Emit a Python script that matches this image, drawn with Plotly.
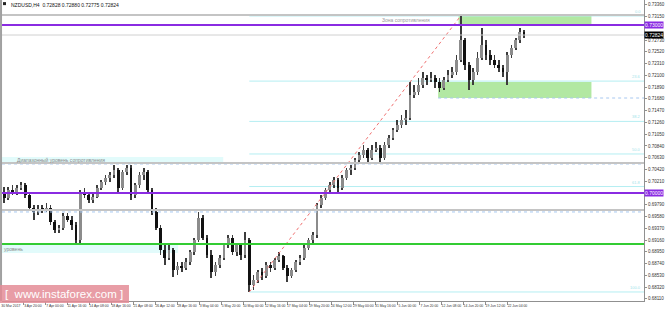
import plotly.graph_objects as go

# ---------------- data (12-hour candles, NZDUSD) ----------------
symbol_title = "NZDUSD,H4  0.72828 0.72880 0.72775 0.72824"

opens = [0.70018, 0.69911, 0.70054, 0.70018, 0.70089, 0.70143, 0.69964, 0.69732, 0.69661, 0.69714,
         0.69696, 0.69732, 0.69482, 0.69339, 0.69375, 0.69589, 0.69518, 0.69429, 0.69161, 0.70000,
         0.69964, 0.69875, 0.69929, 0.70089, 0.70196, 0.70268, 0.70321, 0.70411, 0.70089, 0.70375,
         0.70446, 0.69964, 0.70143, 0.70321, 0.70375, 0.70054, 0.69661, 0.69375, 0.68982, 0.68839,
         0.68982, 0.68625, 0.68696, 0.68661, 0.68768, 0.68946, 0.69161, 0.69554, 0.69196, 0.68893,
         0.68589, 0.68714, 0.68839, 0.69071, 0.69196, 0.68946, 0.69071, 0.68893, 0.69161, 0.68357,
         0.68446, 0.68589, 0.68518, 0.68714, 0.68661, 0.68804, 0.68875, 0.68661, 0.68518, 0.68625,
         0.68768, 0.68839, 0.69018, 0.69161, 0.69250, 0.69786, 0.69911, 0.70054, 0.70143, 0.70232,
         0.70089, 0.70268, 0.70411, 0.70446, 0.70589, 0.70679, 0.70768, 0.70625, 0.70768, 0.70804,
         0.70625, 0.70857, 0.70982, 0.71125, 0.71214, 0.71304, 0.71339, 0.71750, 0.71804, 0.71929,
         0.72054, 0.72018, 0.72054, 0.71982, 0.71875, 0.72018, 0.72107, 0.72161, 0.72375, 0.72732,
         0.72286, 0.72018, 0.72161, 0.72411, 0.72643, 0.72464, 0.72375, 0.72286, 0.72232, 0.72161,
         0.72464, 0.72589, 0.72732, 0.72875]

highs = [0.70107, 0.70107, 0.70143, 0.70143, 0.70196, 0.70179, 0.70000, 0.69786, 0.69786, 0.69786,
         0.69821, 0.69786, 0.69518, 0.69429, 0.69643, 0.69643, 0.69589, 0.69482, 0.70054, 0.70089,
         0.70018, 0.70000, 0.70143, 0.70232, 0.70321, 0.70375, 0.70500, 0.70446, 0.70411, 0.70500,
         0.70500, 0.70179, 0.70375, 0.70446, 0.70411, 0.70089, 0.69732, 0.69429, 0.69071, 0.69107,
         0.69018, 0.68768, 0.68768, 0.68839, 0.68982, 0.69196, 0.69661, 0.69607, 0.69250, 0.68982,
         0.68768, 0.68893, 0.69107, 0.69250, 0.69250, 0.69107, 0.69107, 0.69304, 0.69196, 0.68536,
         0.68625, 0.68661, 0.68768, 0.68768, 0.68839, 0.68946, 0.68893, 0.68714, 0.68661, 0.68804,
         0.68893, 0.69071, 0.69196, 0.69304, 0.69821, 0.69964, 0.70089, 0.70196, 0.70286, 0.70268,
         0.70321, 0.70446, 0.70500, 0.70625, 0.70732, 0.70857, 0.70804, 0.70857, 0.70911, 0.70857,
         0.70911, 0.71036, 0.71161, 0.71304, 0.71393, 0.71482, 0.71982, 0.71929, 0.72054, 0.72161,
         0.72107, 0.72161, 0.72107, 0.72054, 0.72071, 0.72196, 0.72250, 0.72464, 0.73161, 0.72768,
         0.72339, 0.72232, 0.72518, 0.72946, 0.72732, 0.72554, 0.72464, 0.72375, 0.72286, 0.72518,
         0.72643, 0.72768, 0.72946, 0.72911]

lows = [0.69821, 0.69875, 0.69964, 0.69964, 0.70054, 0.69911, 0.69696, 0.69518, 0.69607, 0.69643,
        0.69661, 0.69429, 0.69286, 0.69286, 0.69339, 0.69482, 0.69339, 0.69071, 0.69107, 0.69911,
        0.69821, 0.69821, 0.69911, 0.70054, 0.70143, 0.70196, 0.70268, 0.70000, 0.70054, 0.70321,
        0.69875, 0.69911, 0.70089, 0.70232, 0.70000, 0.69607, 0.69339, 0.68893, 0.68714, 0.68804,
        0.68500, 0.68536, 0.68589, 0.68625, 0.68714, 0.68893, 0.69125, 0.69161, 0.68839, 0.68482,
        0.68518, 0.68661, 0.68804, 0.69018, 0.68893, 0.68875, 0.68804, 0.68839, 0.68232, 0.68268,
        0.68393, 0.68446, 0.68482, 0.68589, 0.68625, 0.68768, 0.68625, 0.68411, 0.68482, 0.68589,
        0.68714, 0.68804, 0.68982, 0.69107, 0.69196, 0.69732, 0.69875, 0.70000, 0.70089, 0.70018,
        0.70054, 0.70232, 0.70321, 0.70411, 0.70536, 0.70625, 0.70554, 0.70589, 0.70732, 0.70536,
        0.70589, 0.70804, 0.70946, 0.71089, 0.71161, 0.71214, 0.71304, 0.71696, 0.71750, 0.71875,
        0.71929, 0.71982, 0.71875, 0.71804, 0.71839, 0.71982, 0.72054, 0.72107, 0.72339, 0.72196,
        0.71839, 0.71929, 0.72107, 0.72375, 0.72375, 0.72286, 0.72232, 0.72161, 0.72071, 0.71929,
        0.72411, 0.72554, 0.72679, 0.72768]

closes = [0.69911, 0.70054, 0.70018, 0.70089, 0.70143, 0.69964, 0.69732, 0.69661, 0.69714, 0.69696,
          0.69732, 0.69482, 0.69339, 0.69375, 0.69589, 0.69518, 0.69429, 0.69161, 0.70000, 0.69964,
          0.69875, 0.69929, 0.70089, 0.70196, 0.70268, 0.70321, 0.70411, 0.70089, 0.70375, 0.70446,
          0.69964, 0.70143, 0.70321, 0.70375, 0.70054, 0.69661, 0.69375, 0.68982, 0.68839, 0.68982,
          0.68625, 0.68696, 0.68661, 0.68768, 0.68946, 0.69161, 0.69554, 0.69196, 0.68893, 0.68589,
          0.68714, 0.68839, 0.69071, 0.69196, 0.68946, 0.69071, 0.68893, 0.69161, 0.68357, 0.68446,
          0.68589, 0.68518, 0.68714, 0.68661, 0.68804, 0.68875, 0.68661, 0.68518, 0.68625, 0.68768,
          0.68839, 0.69018, 0.69161, 0.69250, 0.69786, 0.69911, 0.70054, 0.70143, 0.70232, 0.70089,
          0.70268, 0.70411, 0.70446, 0.70589, 0.70679, 0.70768, 0.70625, 0.70768, 0.70804, 0.70625,
          0.70857, 0.70982, 0.71125, 0.71214, 0.71304, 0.71339, 0.71750, 0.71804, 0.71929, 0.72054,
          0.72018, 0.72054, 0.71982, 0.71875, 0.72018, 0.72107, 0.72161, 0.72375, 0.72732, 0.72286,
          0.72018, 0.72161, 0.72411, 0.72643, 0.72464, 0.72375, 0.72286, 0.72232, 0.72161, 0.72464,
          0.72589, 0.72732, 0.72875, 0.72821]

time_labels = ["30 Mar 2017", "3 Apr 20:00", "7 Apr 00:00", "11 Apr 16:00", "14 Apr 08:00",
               "18 Apr 16:00", "21 Apr 08:00", "26 Apr 12:00", "28 Apr 16:00", "3 May 04:00",
               "5 May 20:00", "10 May 00:00", "12 May 16:00", "17 May 04:00", "19 May 20:00",
               "24 May 12:00", "29 May 00:00", "31 May 16:00", "5 Jun 00:00", "7 Jun 20:00",
               "12 Jun 08:00", "14 Jun 20:00", "19 Jun 12:00", "22 Jun 04:00"]

price_ticks = [0.73360, 0.73150, 0.72730, 0.72520, 0.72310, 0.72100, 0.71890, 0.71680,
               0.71470, 0.71260, 0.71050, 0.70840, 0.70630, 0.70420, 0.70210, 0.69790,
               0.69580, 0.69370, 0.69160, 0.68950, 0.68740, 0.68530, 0.68320, 0.68110]

purple_levels = [0.73000, 0.70000]
gray_levels = [0.73179, 0.70536, 0.69696]
dotted_levels = [0.70518, 0.69661]
green_level = 0.69089
bid_line = 0.72821
bid_label = "0.72824"
zone_upper = (0.72982, 0.73161)
zone_lower = (0.71696, 0.71982)
range_band = (0.70536, 0.70643)
level_band = (0.68929, 0.69071)
fib_ratios = [0.0, 0.236, 0.382, 0.5, 0.618, 1.0]
fib_texts = ["0.0", "23.6", "38.2", "50.0", "61.8", "100.0"]
fib_low_idx, fib_high_idx = 58, 108
zone_upper_idx, zone_lower_idx = 108, 103

# ---------------- geometry of the x scale (H4 bars) ----------------
BARS_PER_CANDLE = 3
X_MAX = 455.6
ZONE_END = 418.3
xs = [1.5 + BARS_PER_CANDLE * i for i in range(len(closes))]
label_step = 15.63
tickvals = [6.3 + label_step * k for k in range(len(time_labels))]
minor_vals = [-0.7 + label_step * k for k in range(1, len(time_labels))]

BULL = "#8c8c8c"
BEAR = "#111111"
WICK = "#3c3c3c"
PURPLE = "#8a2be2"
CYAN = "#b4eef2"
BAND = "#e2fbfb"
GREENZ = "#b2e8a2"

fig = go.Figure()

# wicks
fig.add_trace(go.Bar(
    x=xs, y=[h - l for h, l in zip(highs, lows)], base=lows, width=0.55,
    marker=dict(color=WICK, line=dict(width=0)), hoverinfo="skip", showlegend=False))
# bodies
body_h = [max(abs(c - o), 0.00005) for o, c in zip(opens, closes)]
body_b = [min(o, c) for o, c in zip(opens, closes)]
body_c = [BULL if c >= o else BEAR for o, c in zip(opens, closes)]
fig.add_trace(go.Bar(
    x=xs, y=body_h, base=body_b, width=2.0,
    marker=dict(color=body_c, line=dict(width=0)), hoverinfo="skip", showlegend=False))

shapes = []
# zones and bands (background)
shapes.append(dict(type="rect", xref="x", yref="y", x0=xs[zone_upper_idx] - 1.5, x1=ZONE_END,
                   y0=zone_upper[0], y1=zone_upper[1], fillcolor=GREENZ, line=dict(width=0), layer="below"))
shapes.append(dict(type="rect", xref="x", yref="y", x0=xs[zone_lower_idx] - 1.0, x1=ZONE_END,
                   y0=zone_lower[0], y1=zone_lower[1], fillcolor=GREENZ, line=dict(width=0), layer="below"))
shapes.append(dict(type="rect", xref="x", yref="y", x0=0, x1=157,
                   y0=range_band[0], y1=range_band[1], fillcolor=BAND, line=dict(width=0), layer="below"))
shapes.append(dict(type="rect", xref="x", yref="y", x0=0, x1=125,
                   y0=level_band[0], y1=level_band[1], fillcolor=BAND, line=dict(width=0), layer="below"))

# fibonacci levels
fib_lo = lows[fib_low_idx]
fib_hi = highs[fib_high_idx]
for r in fib_ratios:
    lv = fib_hi - r * (fib_hi - fib_lo)
    shapes.append(dict(type="line", xref="x", yref="y", x0=xs[fib_low_idx], x1=X_MAX,
                       y0=lv, y1=lv, line=dict(color=CYAN, width=1), layer="below"))
shapes.append(dict(type="line", xref="x", yref="y", x0=xs[fib_low_idx], x1=xs[fib_high_idx],
                   y0=fib_lo, y1=fib_hi, line=dict(color="#f07070", width=1, dash="dot"), layer="above"))

# dotted levels
for lv in dotted_levels:
    shapes.append(dict(type="line", xref="paper", yref="y", x0=0, x1=1, y0=lv, y1=lv,
                       line=dict(color="#a8c8f0", width=1, dash="dot"), layer="above"))
shapes.append(dict(type="line", xref="x", yref="y", x0=xs[zone_lower_idx] - 1.0, x1=X_MAX,
                   y0=zone_lower[0], y1=zone_lower[0],
                   line=dict(color="#a8c8f0", width=1, dash="dot"), layer="above"))

# gray levels
for lv in gray_levels:
    shapes.append(dict(type="line", xref="paper", yref="y", x0=0, x1=1, y0=lv, y1=lv,
                       line=dict(color="#c4c4c4", width=2), layer="above"))
shapes.append(dict(type="line", xref="paper", yref="y", x0=0, x1=1, y0=bid_line, y1=bid_line,
                   line=dict(color="#d0d0d0", width=1), layer="above"))
for lv in purple_levels:
    shapes.append(dict(type="line", xref="paper", yref="y", x0=0, x1=1, y0=lv, y1=lv,
                       line=dict(color=PURPLE, width=2), layer="above"))
shapes.append(dict(type="line", xref="paper", yref="y", x0=0, x1=1, y0=green_level, y1=green_level,
                   line=dict(color="#33cc33", width=2), layer="above"))

# left frame
shapes.append(dict(type="line", xref="paper", yref="paper", x0=-0.0015, x1=-0.0015, y0=0, y1=1,
                   line=dict(color="#a0a0a0", width=2)))
# title icon
shapes.append(dict(type="rect", xref="paper", yref="paper", x0=0.0016, x1=0.0062, y0=0.983, y1=0.993,
                   fillcolor="#222", line=dict(width=0)))
# watermark box
shapes.append(dict(type="rect", xref="paper", yref="paper", x0=-0.004, x1=0.1978, y0=-0.0066, y1=0.0532,
                   fillcolor="rgba(228,140,150,0.85)", line=dict(width=0), layer="above"))

ann = []
ann.append(dict(xref="paper", yref="paper", x=0.0105, y=0.9985, xanchor="left", yanchor="top",
                text=symbol_title, showarrow=False, font=dict(size=5, color="#111", family="Arial")))
ann.append(dict(xref="x", yref="y", x=287, y=0.73090, text="Зона сопротивления", showarrow=False,
                font=dict(size=5, color="#9a9a9a", family="Arial")))
ann.append(dict(xref="x", yref="y", x=9, y=0.70590, xanchor="left", text="Диапазонный уровень сопротивления",
                showarrow=False, font=dict(size=5, color="#8a8a8a", family="Arial")))
ann.append(dict(xref="x", yref="y", x=0.3, y=0.69000, xanchor="left", text="уровень",
                showarrow=False, font=dict(size=5, color="#8a8a8a", family="Arial")))
for r, t in zip(fib_ratios, fib_texts):
    lv = fib_hi - r * (fib_hi - fib_lo)
    ann.append(dict(xref="x", yref="y", x=X_MAX - 0.5, y=lv, xanchor="right", yanchor="bottom", text=t,
                    showarrow=False, font=dict(size=4, color="#9fe4ea", family="Arial")))
# price labels on the axis
for lv, txt, bg in [(purple_levels[0], "0.73000", PURPLE), (bid_line, bid_label, "#000000"),
                    (purple_levels[1], "0.70000", PURPLE)]:
    ann.append(dict(xref="paper", yref="y", x=1.0, y=lv, xanchor="left", yanchor="middle", text=txt,
                    showarrow=False, bgcolor=bg, borderpad=0, font=dict(size=5, color="#ffffff", family="Arial")))
ann.append(dict(xref="paper", yref="paper", x=0.096, y=0.0233, xanchor="center", yanchor="middle",
                text="[  www.instaforex.com ]", showarrow=False,
                font=dict(size=11.5, color="#ffffff", family="Arial")))

fig.update_layout(
    width=665, height=309,
    margin=dict(l=2, r=16, t=0, b=8),
    paper_bgcolor="white", plot_bgcolor="white",
    barmode="overlay", bargap=0,
    shapes=shapes, annotations=ann,
    hovermode=False, showlegend=False,
    xaxis=dict(range=[0, X_MAX], showgrid=False, zeroline=False, showline=True, linecolor="#909090",
               linewidth=1, tickmode="array", tickvals=tickvals, ticktext=time_labels,
               ticks="", tickangle=0, ticklabelstandoff=1,
               tickfont=dict(size=3.4, color="#333", family="Arial"),
               minor=dict(tickmode="array", tickvals=minor_vals, ticks="outside", ticklen=3,
                          tickcolor="#909090", tickwidth=1),
               fixedrange=True),
    yaxis=dict(range=[0.68071, 0.73446], side="right", showgrid=False, zeroline=False, showline=True,
               linecolor="#909090", linewidth=1, tickmode="array", tickvals=price_ticks,
               ticktext=[f"{v:.5f}" for v in price_ticks], ticks="outside", ticklen=2,
               tickcolor="#909090", tickfont=dict(size=4.5, color="#333", family="Arial"),
               fixedrange=True),
)

fig.write_html("out.html")
